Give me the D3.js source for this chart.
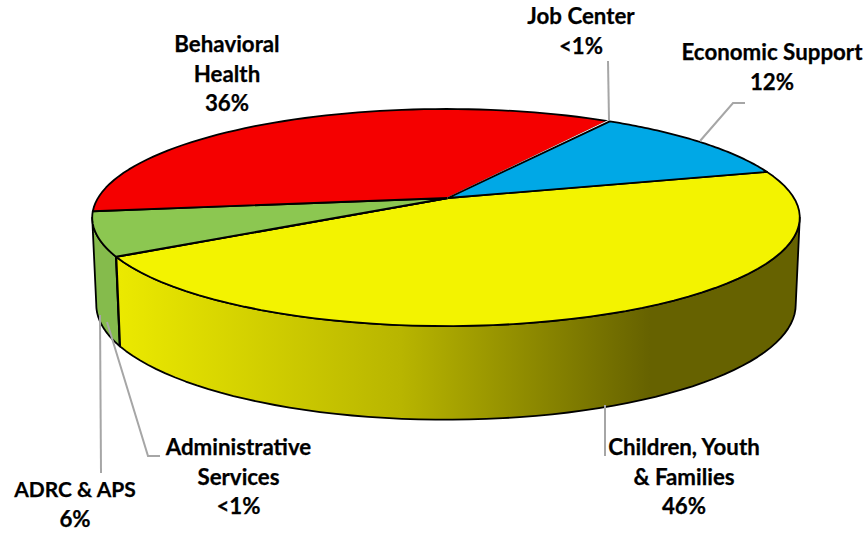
<!DOCTYPE html>
<html>
<head>
<meta charset="utf-8">
<style>
	body { margin: 0; background: #fff; }
	text { font-family: Lato, "Open Sans", sans-serif; font-weight: 700; font-size: 22.3px; fill: #000; stroke: #000; stroke-width: 0.25px; text-anchor: middle; }
</style>
</head>
<body>
<svg width="865" height="533"></svg>
<script src="https://d3js.org/d3.v7.min.js"></script>
<script>

	// Chart data, clockwise from the yellow slice.
	var categories = ["Children, Youth & Families", "Administrative Services", "ADRC & APS", "Behavioral Health", "Job Center", "Economic Support"];
	var values = [45.7, 0.05, 6.5, 36, 0.1, 11.7];
	var shownValues = ["46%", "<1%", "6%", "36%", "<1%", "12%"];
	var topColors = ["#f3f300", "#000000", "#8cc751", "#f50000", "#ffffff", "#00a8e6"];

	// Label lines as they are broken in the picture.
	var labelLines = [
		["Children, Youth", "& Families"],
		["Administrative", "Services"],
		["ADRC & APS"],
		["Behavioral", "Health"],
		["Job Center"],
		["Economic Support"]
	];

	var svg = d3.select("svg");

	// Perspective of the disc: top face and bottom face.
	var k = 0.18;
	var apex = [448, 198];
	var topFace = {x: 446, y: 198, rx: 348, ry: 105};
	var bottomFace = {x: 446, y: 284, rx: 344, ry: 111.3};

	var pie = d3.pie().sort(null)
		.startAngle(74.9 * Math.PI / 180)
		.endAngle((74.9 + 360) * Math.PI / 180);
	var arcs = pie(values);

	// Angle a runs clockwise from 12 o'clock, like d3.pie.
	function project(face, a) {
		var u = Math.sin(a), v = -Math.cos(a), w = 1 - k * v;
		return [face.x + face.rx * u / w, face.y + face.ry * v / w];
	}

	function sweep(face, a0, a1) {
		return d3.range(0, 61).map(function(i) {
			return project(face, a0 + (a1 - a0) * i / 60);
		});
	}

	var line = d3.line();

	// Side wall is only visible between the two silhouette angles.
	var wallStart = Math.PI / 2 + Math.asin(k),
		wallEnd = 3 * Math.PI / 2 - Math.asin(k);

	var defs = svg.append("defs");
	var grad = defs.append("linearGradient")
		.attr("id", "wallYellow")
		.attr("gradientUnits", "userSpaceOnUse")
		.attr("x1", 120).attr("x2", 650).attr("y1", 0).attr("y2", 0);
	grad.append("stop").attr("offset", 0).attr("stop-color", "#ebe900");
	grad.append("stop").attr("offset", 0.53).attr("stop-color", "#b8b500");
	grad.append("stop").attr("offset", 1).attr("stop-color", "#666200");

	var wallColors = ["url(#wallYellow)", "#202020", "#85bb4c"];

	// Walls first, then the top face over them.
	arcs.slice(0, 3).reverse().forEach(function(d) {
		var a0 = Math.max(d.startAngle, wallStart),
			a1 = Math.min(d.endAngle, wallEnd);
		var pts = sweep(topFace, a0, a1).concat(sweep(bottomFace, a1, a0));
		svg.append("path")
			.attr("d", line(pts) + "Z")
			.attr("fill", wallColors[d.index])
			.attr("stroke", "#000")
			.attr("stroke-width", 1.8)
			.attr("stroke-linejoin", "round");
	});

	svg.selectAll("path.top")
		.data(arcs)
		.enter().append("path")
			.attr("class", "top")
			.attr("d", function(d) {
				return line([apex].concat(sweep(topFace, d.startAngle, d.endAngle))) + "Z";
			})
			.attr("fill", function(d) { return topColors[d.index]; })
			.attr("stroke", function(d) { return d.index == 4 ? "#fff" : "#000"; })
			.attr("stroke-width", function(d) { return d.index == 4 ? 1.6 : 1.8; })
			.attr("stroke-linejoin", "round");

	// Leader lines.
	var leaders = [
		[[605, 405], [605, 456]],
		[[107, 322], [148, 456], [160, 456]],
		[[100, 315], [101, 473]],
		[],
		[[609, 120], [608, 61]],
		[[700, 141], [733, 103], [745, 103]]
	];
	svg.selectAll("path.leader")
		.data(leaders.filter(function(d) { return d.length; }))
		.enter().append("path")
			.attr("class", "leader")
			.attr("d", line)
			.attr("fill", "none")
			.attr("stroke", "#a6a6a6")
			.attr("stroke-width", 2);

	// Labels: centre x and first baseline.
	var labelPos = [[684, 455], [238.5, 455], [75, 497], [227, 52], [581, 24], [772, 60]];
	var lineStep = 29.7;

	labelLines.forEach(function(lines, i) {
		var t = svg.append("text")
			.attr("x", labelPos[i][0])
			.attr("y", labelPos[i][1]);
		lines.concat([shownValues[i]]).forEach(function(s, j) {
			t.append("tspan")
				.attr("x", labelPos[i][0])
				.attr("y", labelPos[i][1] + j * lineStep)
				// all caps run wide in Lato, pull this one in
				.style("font-size", s == "ADRC & APS" ? "21px" : null)
				.text(s);
		});
	});

</script>
</body>
</html>
